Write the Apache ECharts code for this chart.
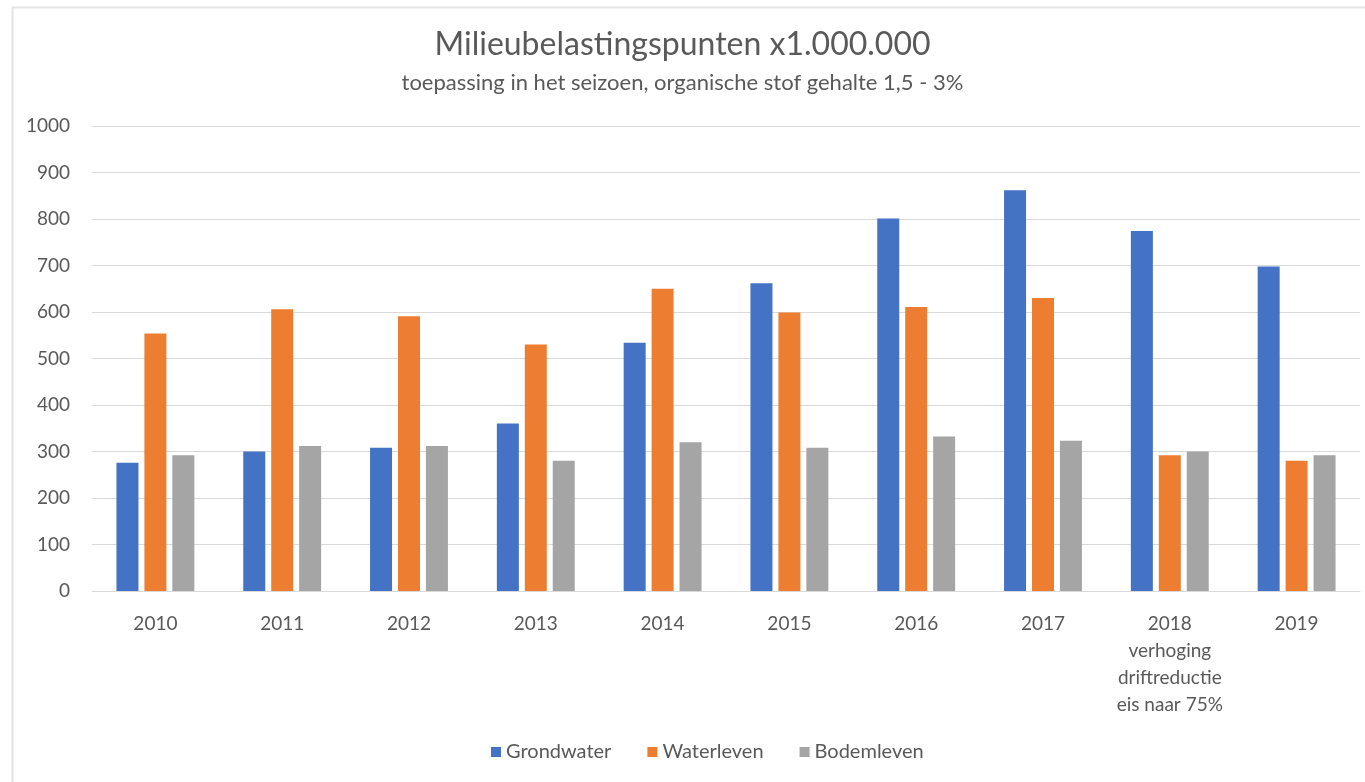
<!DOCTYPE html>
<html>
<head>
<meta charset="utf-8">
<script src="https://cdn.jsdelivr.net/npm/echarts@6/dist/echarts.min.js"></script>
<style>
  html, body { margin: 0; padding: 0; background: #fff; }
  #chart { width: 1365px; height: 782px; }
</style>
</head>
<body>
<div id="chart"></div>
<script>
// data
var years = ['2010', '2011', '2012', '2013', '2014', '2015', '2016', '2017',
  '2018\nverhoging\ndriftreductie\neis naar 75%', '2019'];
var grondwater = [276, 300, 308, 360, 534, 662, 801, 862, 774, 698];
var waterleven = [554, 606, 591, 530, 650, 599, 611, 630, 292, 280];
var bodemleven = [292, 312, 312, 280, 320, 308, 332, 323, 300, 292];
var yTicks = [0, 1000, 100];

var textColor = '#595959';
var fontName = 'Lato, "Open Sans", sans-serif';

function barSeries(name, data, color) {
  return {
    name: name,
    type: 'bar',
    data: data,
    barWidth: 22,
    barGap: '27%',
    itemStyle: { color: color }
  };
}

var chart = echarts.init(document.getElementById('chart'));
chart.setOption({
  animation: false,
  textStyle: { fontFamily: fontName },
  // light frame round the chart, as in the screenshot
  graphic: [{
    type: 'rect',
    left: 10,
    top: 5,
    shape: { width: 1400, height: 800 },
    style: { fill: 'none', stroke: '#e3e3e3', lineWidth: 2 },
    silent: true
  }],
  title: {
    text: 'Milieubelastingspunten x1.000.000',
    subtext: 'toepassing in het seizoen, organische stof gehalte 1,5 - 3%',
    left: 'center',
    top: 24,
    itemGap: 11,
    textStyle: { color: textColor, fontSize: 32, fontWeight: 'normal', fontFamily: fontName },
    subtextStyle: { color: textColor, fontSize: 22, fontFamily: fontName }
  },
  legend: {
    bottom: 15,
    left: 486,
    itemWidth: 10,
    itemHeight: 10,
    itemGap: 36,
    icon: 'rect',
    textStyle: { color: textColor, fontSize: 20, fontFamily: fontName },
    data: ['Grondwater', 'Waterleven', 'Bodemleven']
  },
  grid: { left: 92, right: 5, top: 126, bottom: 191 },
  xAxis: {
    type: 'category',
    data: years,
    axisTick: { show: false },
    axisLine: { lineStyle: { color: '#d9d9d9' } },
    axisLabel: { color: textColor, fontSize: 19, margin: 19, lineHeight: 27, interval: 0 }
  },
  yAxis: {
    type: 'value',
    min: yTicks[0],
    max: yTicks[1],
    interval: yTicks[2],
    axisLine: { show: false },
    axisTick: { show: false },
    splitLine: { lineStyle: { color: '#d9d9d9', width: 1 } },
    axisLabel: { color: textColor, fontSize: 19, margin: 22, formatter: function (v) { return String(v); } }
  },
  series: [
    barSeries('Grondwater', grondwater, '#4472c4'),
    barSeries('Waterleven', waterleven, '#ed7d31'),
    barSeries('Bodemleven', bodemleven, '#a5a5a5')
  ]
});
</script>
</body>
</html>
